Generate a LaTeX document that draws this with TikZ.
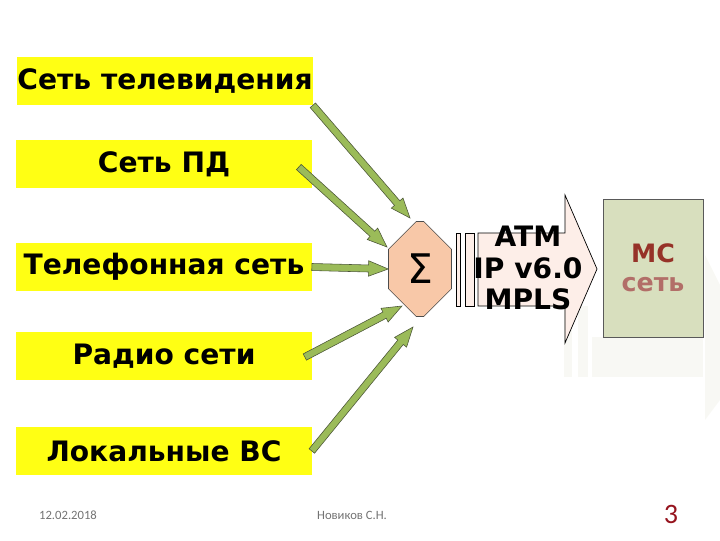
\documentclass[tikz,border=0pt]{standalone}
\usepackage{fontspec}
\setmainfont{DejaVu Sans}
\newfontfamily\footfont{Carlito}
\usetikzlibrary{shapes.misc, positioning, calc}
\definecolor{srcbg}{RGB}{255,255,20}
\definecolor{feedfill}{RGB}{155,187,89}
\definecolor{feedline}{RGB}{75,85,55}
\definecolor{sumbg}{RGB}{248,200,168}
\definecolor{trunkbg}{RGB}{253,238,232}
\definecolor{mcbg}{RGB}{216,223,190}
\definecolor{mcred}{RGB}{150,50,40}
\definecolor{mcfade}{RGB}{178,110,104}
\definecolor{pagered}{RGB}{150,20,30}
\definecolor{wmark}{RGB}{248,248,244}

\newcommand{\feed}[2]{%
    \coordinate (fa) at (#1);
    \coordinate (fb) at (#2);
    \coordinate (fh) at ($(fb)!14pt!(fa)$);
    \draw[feedarr] ($(fa)!2.5pt!90:(fb)$) -- ($(fh)!2.5pt!90:(fb)$) -- ($(fh)!5.5pt!90:(fb)$) -- (fb)
        -- ($(fh)!5.5pt!-90:(fb)$) -- ($(fh)!2.5pt!-90:(fb)$) -- ($(fa)!2.5pt!-90:(fb)$) -- cycle;}

\begin{document}
\begin{tikzpicture}[
        x=0.025cm, y=-0.025cm,
        src/.style={fill=srcbg, minimum width=7.375cm, minimum height=1.2cm, inner sep=0pt, font=\bfseries\fontsize{20pt}{24pt}\selectfont},
        sum/.style={chamfered rectangle, chamfered rectangle xsep=0.375cm, chamfered rectangle ysep=0.6cm, draw=black!70, fill=sumbg, minimum width=1.575cm, minimum height=2.375cm, inner sep=0pt, font=\fontsize{29pt}{30pt}\selectfont},
        trunk/.style={draw=black, fill=trunkbg, line width=0.5pt, line join=miter},
        feedarr/.style={draw=feedline, fill=feedfill, line width=0.4pt, line join=miter},
        mc/.style={draw=black!65, fill=mcbg, minimum width=2.5cm, minimum height=3.45cm, align=center, font=\bfseries\fontsize{18pt}{21pt}\selectfont},
        foot/.style={font=\footfont\fontsize{9pt}{11pt}\selectfont, text=black!55}
    ]
    \useasboundingbox (0,0) rectangle (720,540);

    \fill[wmark] (564,306) rectangle (572,377);
    \fill[wmark] (578,306) rectangle (588,377);
    \fill[wmark] (592,337) rectangle (703,377);
    \fill[wmark] (705,255) -- (720,285) -- (720,400) -- (705,420) -- cycle;

    \node[src] (tv) at (165,81) {Сеть телевидения};
    \node[src] (pd) at (164,164) {Сеть ПД};
    \node[src] (tel) at (164,267) {Телефонная сеть};
    \node[src] (radio) at (164,356) {Радио сети};
    \node[src] (lan) at (164,451) {Локальные ВС};

    \node[sum] (sum) at (420,269) {Σ};

    \draw[trunk] (456,233) rectangle (460,306);
    \draw[trunk] (465,233) rectangle (474,306);
    \draw[trunk] (478,233) -- (565,233) -- (565,195) -- (597,269) -- (565,343) -- (565,306) -- (478,306) -- cycle;
    \node[align=center, font=\bfseries\fontsize{20pt}{22.5pt}\selectfont] (proto) at (528,268) {ATM\\IP v6.0\\MPLS};

    \node[mc] (mc) at (653,268) {\textcolor{mcred}{МС}\\\textcolor{mcfade}{сеть}};

    \coordinate (t1) at (410,218);
    \coordinate (t2) at (387,247);
    \coordinate (t4) at (402,306);
    \coordinate (t5) at (413,327);

    \feed{tv.south east}{t1}
    \feed{$(pd.east)+(-13,3)$}{t2}
    \feed{tel.east}{sum.west}
    \feed{$(radio.east)+(-7,1)$}{t4}
    \feed{lan.east}{t5}

    \node[foot] (date) at (68,515) {12.02.2018};
    \node[foot] (author) at (352,515) {Новиков С.Н.};
    \node[font=\footfont\fontsize{20pt}{22pt}\selectfont, text=pagered] (page) at (671,514) {3};
\end{tikzpicture}
\end{document}
